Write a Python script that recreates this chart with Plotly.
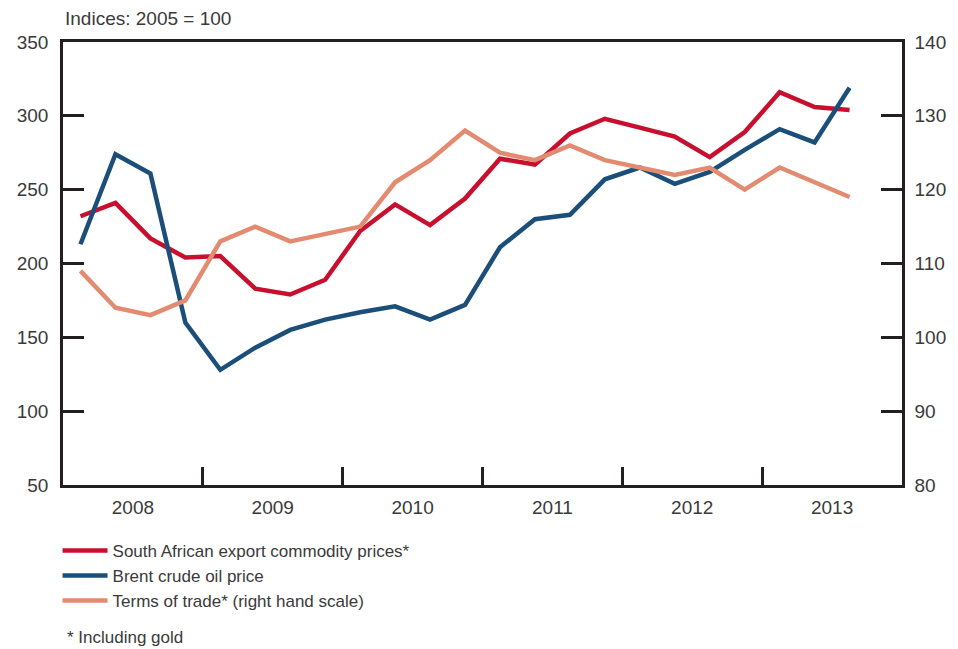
import plotly.graph_objects as go

years = [2008, 2009, 2010, 2011, 2012, 2013]
quarters = ["2008Q1", "2008Q2", "2008Q3", "2008Q4",
            "2009Q1", "2009Q2", "2009Q3", "2009Q4",
            "2010Q1", "2010Q2", "2010Q3", "2010Q4",
            "2011Q1", "2011Q2", "2011Q3", "2011Q4",
            "2012Q1", "2012Q2", "2012Q3", "2012Q4",
            "2013Q1", "2013Q2", "2013Q3"]

sa_export = [232, 241, 217, 204, 205, 183, 179, 189, 222, 240, 226, 244,
             271, 267, 288, 298, 292, 286, 272, 289, 316, 306, 304]
brent = [213, 274, 261, 160, 128, 143, 155, 162, 167, 171, 162, 172,
         211, 230, 233, 257, 265, 254, 262, 277, 291, 282, 319]
terms_of_trade = [109, 104, 103, 105, 113, 115, 113, 114, 115, 121, 124, 128,
                  125, 124, 126, 124, 123, 122, 123, 120, 123, 121, 119]

# decimal year position at the middle of each quarter
xpos = [int(q[:4]) + (int(q[-1]) - 0.5) / 4 for q in quarters]

RED = "#c8102e"
BLUE = "#1b4f7a"
ORANGE = "#e38b70"
AX = "#231f20"
TXT = "#3a3a3a"
FONT = "Liberation Sans"

fig = go.Figure()
fig.add_trace(go.Scatter(x=xpos, y=sa_export, mode="lines",
                         name="South African export commodity prices*",
                         line=dict(color=RED, width=4.5)))
fig.add_trace(go.Scatter(x=xpos, y=brent, mode="lines",
                         name="Brent crude oil price",
                         line=dict(color=BLUE, width=4.5)))
fig.add_trace(go.Scatter(x=xpos, y=terms_of_trade, mode="lines",
                         name="Terms of trade* (right hand scale)",
                         line=dict(color=ORANGE, width=4.5), yaxis="y2"))

fig.update_layout(
    width=958, height=649,
    margin=dict(l=55, r=64, t=34, b=172, autoexpand=False),
    paper_bgcolor="white", plot_bgcolor="white",
    font=dict(family=FONT, size=19, color=TXT),
    showlegend=True,
    legend=dict(x=-0.0065, xanchor="left", y=-0.108, yanchor="top",
                font=dict(size=17, color=TXT), tracegroupgap=0,
                itemwidth=45, bgcolor="rgba(0,0,0,0)"),
    xaxis=dict(range=[2008, 2014], showgrid=False, zeroline=False,
               showline=True, linecolor=AX, linewidth=2.5, mirror=True,
               tickmode="array", tickvals=[y + 0.5 for y in years],
               ticktext=[str(y) for y in years], ticks="", ticklen=0,
               ticklabelstandoff=3,
               minor=dict(tickmode="array", tickvals=years[1:], ticks="inside",
                          ticklen=18, tickwidth=2.5, tickcolor=AX, showgrid=False),
               tickfont=dict(size=19, color=TXT)),
    yaxis=dict(range=[50, 350], dtick=50, tick0=50, showgrid=False, zeroline=False,
               showline=True, linecolor=AX, linewidth=2.5, mirror=True,
               ticks="inside", ticklen=21, tickwidth=2.5, tickcolor=AX,
               ticklabelstandoff=8,
               tickfont=dict(size=19, color=TXT)),
    yaxis2=dict(range=[80, 140], dtick=10, tick0=80, overlaying="y", side="right",
                showgrid=False, zeroline=False, showline=True, linecolor=AX,
                linewidth=2.5, ticks="inside", ticklen=21, tickwidth=2.5,
                tickcolor=AX, ticklabelstandoff=6,
                tickfont=dict(size=19, color=TXT)),
    annotations=[
        dict(text="Indices: 2005 = 100", xref="paper", yref="paper",
             x=0, y=1.054, xanchor="left", yanchor="middle", showarrow=False,
             font=dict(size=19, color=TXT)),
        dict(text="* Including gold", xref="paper", yref="paper",
             x=0.002, y=-0.345, xanchor="left", yanchor="middle", showarrow=False,
             font=dict(size=17, color=TXT)),
    ],
)

fig.write_html("out.html")
